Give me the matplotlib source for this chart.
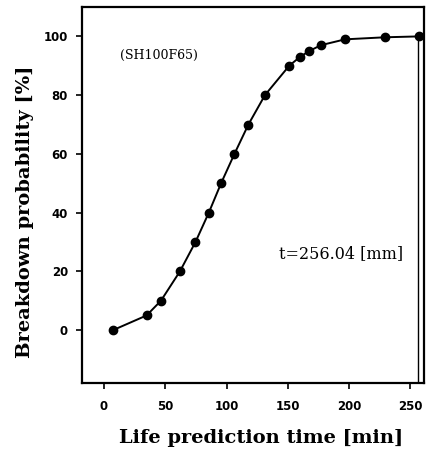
import numpy as np
import matplotlib
matplotlib.use("Agg")
import matplotlib.pyplot as plt

life_time = [7.3, 34.7, 46.4, 61.9, 74.6, 85.5, 95.5, 106.4, 117.8, 131.3,
             151.1, 159.8, 167.4, 176.9, 196.7, 229.4, 257.3]
probability = [0, 5, 10, 20, 30, 40, 50, 60, 70, 80,
               90, 93, 95, 97, 99, 99.7, 100]
t_limit = 256.04
x_ticks = [0, 50, 100, 150, 200, 250]
y_ticks = [0, 20, 40, 60, 80, 100]

fig = plt.figure(figsize=(4.26, 4.53), dpi=100)
ax = fig.add_axes([0.1925, 0.1545, 0.8025, 0.83])

ax.plot(life_time, probability, '-o', color='black', lw=1.4, markersize=6)
ax.plot([t_limit, t_limit], [-18, 100], color='black', lw=1.0)

ax.set_xlim(-18, 261)
ax.set_ylim(-18, 110)
ax.set_xticks(x_ticks)
ax.set_yticks(y_ticks)
ax.tick_params(direction='out', length=4, width=1.2, labelsize=8.5)
ax.tick_params(axis='x', pad=8)
ax.tick_params(axis='y', pad=6)
for lab in ax.get_xticklabels() + ax.get_yticklabels():
    lab.set_fontweight('bold')
for sp in ax.spines.values():
    sp.set_linewidth(1.6)

serif = {'family': 'DejaVu Serif', 'weight': 'bold'}
ax.set_xlabel("Life prediction time [min]", fontdict=serif, fontsize=14)
ax.set_ylabel("Breakdown probability [%]", fontdict=serif, fontsize=14)
ax.xaxis.set_label_coords(0.523, -0.122)
ax.yaxis.set_label_coords(-0.14, 0.455)

ax.text(13, 93.5, "(SH100F65)", fontsize=9, family='DejaVu Serif', va='center')
ax.text(143, 26, "t=256.04 [mm]", fontsize=11.5, family='DejaVu Serif', va='center')

fig.savefig("out.png", dpi=100)
